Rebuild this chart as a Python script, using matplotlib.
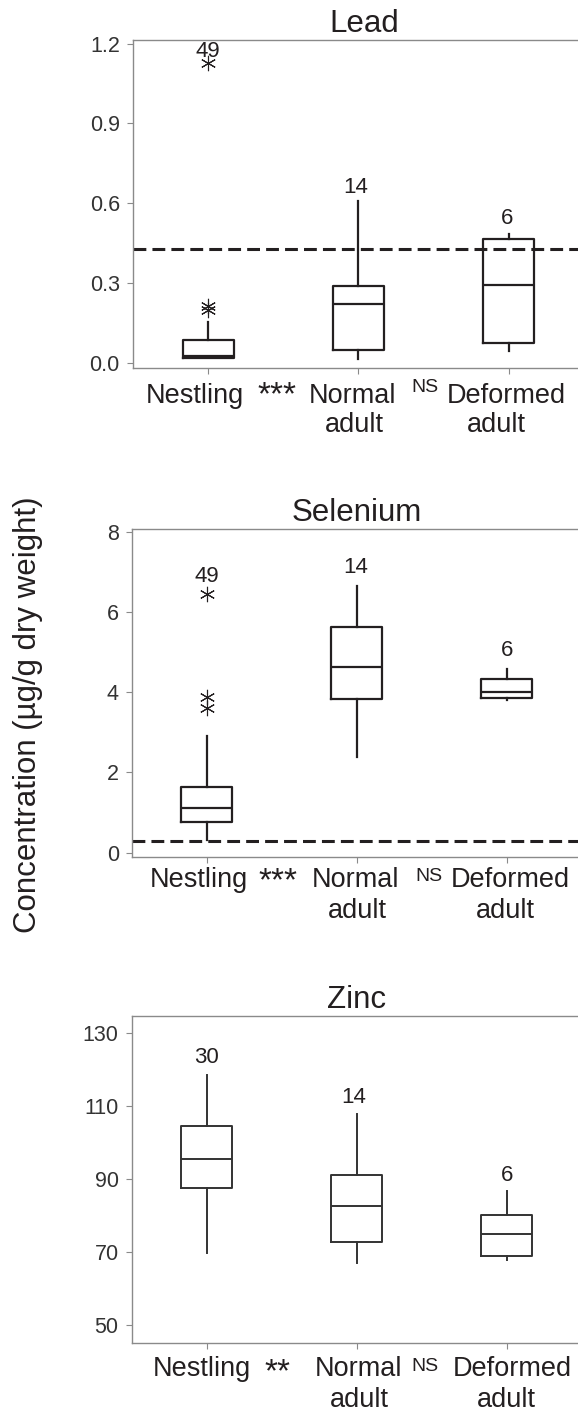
import matplotlib
matplotlib.use("Agg")
import matplotlib.pyplot as plt

plt.rcParams['font.family'] = ['Liberation Sans', 'DejaVu Sans']

groups = ["Nestling", "Normal adult", "Deformed adult"]

# Lead (ug/g dry weight)
lead_q1 = [0.018, 0.048, 0.075]
lead_med = [0.024, 0.221, 0.291]
lead_q3 = [0.085, 0.289, 0.466]
lead_lo = [0.018, 0.0125, 0.045]
lead_hi = [0.154, 0.609, 0.483]
lead_fliers = [[0.200, 0.212, 1.127], [], []]
lead_n = ["49", "14", "6"]
lead_n_y = [1.171, 0.659, 0.541]
lead_threshold = 0.429

# Selenium
se_q1 = [0.756, 3.84, 3.86]
se_med = [1.105, 4.62, 4.0]
se_q3 = [1.628, 5.63, 4.34]
se_lo = [0.316, 2.375, 3.80]
se_hi = [2.92, 6.64, 4.58]
se_fliers = [[3.60, 3.87, 6.46], [], []]
se_n = ["49", "14", "6"]
se_n_y = [6.89, 7.10, 5.03]
se_threshold = 0.30

# Zinc
zn_q1 = [87.7, 72.8, 69.1]
zn_med = [95.5, 82.8, 75.1]
zn_q3 = [104.5, 91.1, 80.3]
zn_lo = [69.9, 67.2, 68.0]
zn_hi = [118.6, 107.9, 86.8]
zn_fliers = [[], [], []]
zn_n = ["30", "14", "6"]
zn_n_y = [123.4, 112.5, 91.1]

INK = '#231f20'
GREY = '#8a8a8a'


def stats(q1, med, q3, lo, hi, fliers):
    out = []
    for i in range(len(q1)):
        out.append(dict(q1=q1[i], med=med[i], q3=q3[i], whislo=lo[i],
                        whishi=hi[i], fliers=fliers[i], label=groups[i]))
    return out


def panel(fig, rect, title, st, ylim, yticks, fmt, n_text, n_y, n_x,
          threshold, sig, lab, lw=1.6, col=INK):
    ax = fig.add_axes(rect)
    box = dict(color=col, linewidth=lw)
    ax.bxp(st, positions=[1, 2, 3], widths=0.34, showcaps=False,
           boxprops=box, whiskerprops=box, medianprops=box,
           flierprops=dict(marker=(6, 2, 0), markersize=11, markeredgewidth=0.8,
                           markeredgecolor=col, markerfacecolor='none'))
    if threshold is not None:
        ax.axhline(threshold, color=INK, linewidth=2.2, dashes=(4.2, 2.0))
    ax.set_xlim(0.5, 3.5)
    ax.set_ylim(*ylim)
    ax.set_yticks(yticks)
    ax.set_yticklabels([fmt % v for v in yticks])
    ax.set_xticks([1, 2, 3])
    ax.set_xticklabels([])
    ax.tick_params(direction='out', length=4.5, width=0.8, color=GREY,
                   labelcolor='#333333', labelsize=15.5, pad=5)
    for s in ax.spines.values():
        s.set_color(GREY)
        s.set_linewidth(1.0)
    ax.spines['right'].set_visible(False)
    for x, y, t in zip(n_x, n_y, n_text):
        ax.text(x, y, t, ha='center', va='center', fontsize=16, color=INK)

    # title above axes
    ax.annotate(title, xy=(lab['title_x'], 1), xycoords=('data', 'axes fraction'),
                xytext=(0, 8), textcoords='offset pixels', ha='center',
                va='baseline', fontsize=22.5, color=INK)

    def put(text, x, off, size=19.5):
        ax.annotate(text, xy=(x, 0), xycoords=('data', 'axes fraction'),
                    xytext=(0, -off), textcoords='offset pixels', ha='center',
                    va='baseline', fontsize=size, color=INK)

    b1, b2 = lab['base']
    put("Nestling", lab['x'][0], b1)
    put("Normal", lab['x'][1], b1)
    put("adult", lab['x'][2], b2)
    put("Deformed", lab['x'][3], b1)
    put("adult", lab['x'][4], b2)
    put(sig[0], lab['x'][5], lab['sig'], size=24)
    put(sig[1], lab['x'][6], lab['ns'], size=14)
    return ax


fig = plt.figure(figsize=(5.78, 14.14), dpi=100)

panel(fig, [0.2301, 0.73975, 0.7796, 0.23197], "Lead",
      stats(lead_q1, lead_med, lead_q3, lead_lo, lead_hi, lead_fliers),
      (-0.02, 1.214), [0.0, 0.3, 0.6, 0.9, 1.2], "%.1f",
      lead_n, lead_n_y, [1.0, 1.98, 2.99], lead_threshold, ("***", "NS"),
      dict(title_x=2.04, base=(35, 64), sig=36, ns=24,
           x=[0.913, 1.96, 1.977, 2.985, 2.92, 1.46, 2.443]))

panel(fig, [0.22837, 0.39413, 0.7785, 0.23175], "Selenium",
      stats(se_q1, se_med, se_q3, se_lo, se_hi, se_fliers),
      (-0.1, 8.07), [0, 2, 4, 6, 8], "%d",
      se_n, se_n_y, [1.0, 1.99, 3.0], se_threshold, ("***", "NS"),
      dict(title_x=2.0, base=(30, 61), sig=34, ns=24,
           x=[0.947, 1.99, 2.0, 3.02, 2.99, 1.47, 2.48]))

panel(fig, [0.22785, 0.05021, 0.7785, 0.23126], "Zinc",
      stats(zn_q1, zn_med, zn_q3, zn_lo, zn_hi, zn_fliers),
      (45.2, 134.7), [50, 70, 90, 110, 130], "%d",
      zn_n, zn_n_y, [1.0, 1.98, 3.0], None, ("**", "NS"),
      dict(title_x=2.0, base=(33, 64), sig=38, ns=28,
           x=[0.967, 2.015, 2.02, 3.04, 3.0, 1.47, 2.455]),
      lw=1.4, col='#333333')

fig.text(28 / 578, 1 - 715 / 1414, "Concentration (\u00b5g/g dry weight)",
         rotation=90, ha='center', va='center', fontsize=22.5, color=INK)

fig.savefig("out.png", dpi=100)
